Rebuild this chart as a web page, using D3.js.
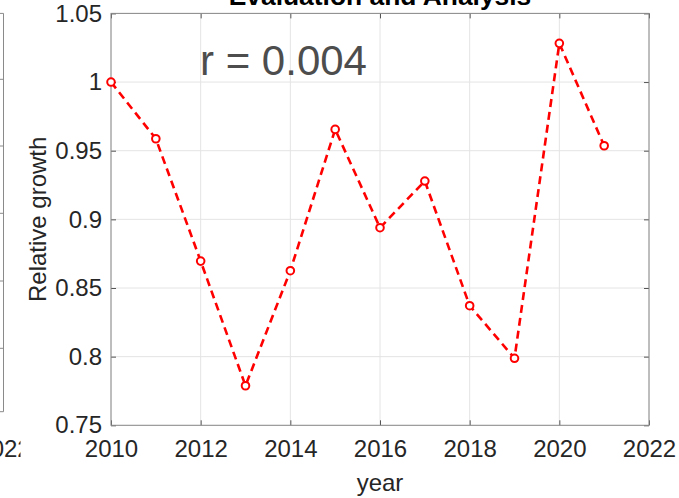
<!DOCTYPE html>
<html>
<head>
<meta charset="utf-8">
<script src="https://cdn.jsdelivr.net/npm/d3@7"></script>
<style>
  body { margin: 0; background: #fff; }
  svg { display: block; font-family: "Liberation Sans", Arial, Helvetica, sans-serif; }
</style>
</head>
<body>
<div id="chart"></div>
<script>
// data
const years = [2010, 2011, 2012, 2013, 2014, 2015, 2016, 2017, 2018, 2019, 2020, 2021];
const growth = [1.000, 0.9587, 0.8696, 0.7788, 0.8626, 0.9655, 0.8939, 0.9279, 0.8371, 0.7988, 1.0282, 0.9536];
const xTicks = [2010, 2012, 2014, 2016, 2018, 2020, 2022];
const yTicks = [0.75, 0.8, 0.85, 0.9, 0.95, 1, 1.05];
const leftPanelTicks = [79.3, 146, 213.3, 281, 348.3]; // right edge ticks of the clipped neighbour subplot
const rText = "r = 0.004";

function drawChart() {
  const container = d3.select("#chart");
  container.selectAll("*").remove();

  const width = 679;
  const height = 498;
  const plot = { left: 111, right: 649, top: 13.4, bottom: 425.3 };

  const svg = container.append("svg")
    .attr("width", width)
    .attr("height", height);

  const x = d3.scaleLinear().domain([2010, 2022]).range([plot.left, plot.right]);
  const y = d3.scaleLinear().domain([0.75, 1.05]).range([plot.bottom, plot.top]);

  // neighbouring subplot, only its right edge shows
  const lp = svg.append("g");
  lp.append("path")
    .attr("d", `M0,13.4 H3.5 V411.7 H0`)
    .attr("fill", "none")
    .attr("stroke", "#8a8a8a")
    .attr("stroke-width", 1);
  lp.selectAll(".lt")
    .data(leftPanelTicks)
    .enter()
    .append("line")
    .attr("x1", 0).attr("x2", 3.5)
    .attr("y1", d => d).attr("y2", d => d)
    .attr("stroke", "#8a8a8a");
  svg.append("clipPath").attr("id", "lclip")
    .append("rect").attr("x", 0).attr("y", 420).attr("width", 20.5).attr("height", 60);
  svg.append("text")
    .attr("clip-path", "url(#lclip)")
    .attr("x", 4).attr("y", 457)
    .attr("text-anchor", "middle")
    .attr("font-size", 24)
    .attr("fill", "#262626")
    .text("2022");

  // grid
  svg.append("g").selectAll("line")
    .data(xTicks)
    .enter()
    .append("line")
    .attr("x1", d => x(d)).attr("x2", d => x(d))
    .attr("y1", plot.top).attr("y2", plot.bottom)
    .attr("stroke", "#e4e4e4");
  svg.append("g").selectAll("line")
    .data(yTicks)
    .enter()
    .append("line")
    .attr("x1", plot.left).attr("x2", plot.right)
    .attr("y1", d => y(d)).attr("y2", d => y(d))
    .attr("stroke", "#e4e4e4");

  // axes
  const styleAxis = g => {
    g.select(".domain").remove();
    g.selectAll(".tick line").attr("stroke", "#555");
    g.selectAll(".tick text")
      .attr("fill", "#262626")
      .attr("font-size", 24);
  };

  svg.append("g")
    .attr("transform", `translate(0,${plot.bottom})`)
    .call(d3.axisBottom(x).tickValues(xTicks).tickFormat(d3.format("d")).tickSize(-5).tickPadding(15))
    .call(styleAxis);

  svg.append("g")
    .attr("transform", `translate(0,${plot.top})`)
    .call(d3.axisTop(x).tickValues(xTicks).tickFormat("").tickSize(-5))
    .call(styleAxis);

  svg.append("g")
    .attr("transform", `translate(${plot.left},0)`)
    .call(d3.axisLeft(y).tickValues(yTicks).tickFormat(d => d3.format("")(+d.toFixed(2))).tickSize(-5).tickPadding(9))
    .call(styleAxis);

  svg.append("g")
    .attr("transform", `translate(${plot.right},0)`)
    .call(d3.axisRight(y).tickValues(yTicks).tickFormat("").tickSize(-5))
    .call(styleAxis);

  // box
  svg.append("rect")
    .attr("x", plot.left).attr("y", plot.top)
    .attr("width", plot.right - plot.left)
    .attr("height", plot.bottom - plot.top)
    .attr("fill", "none")
    .attr("stroke", "#8a8a8a")
    .attr("stroke-width", 1);

  // data line
  const pts = years.map((yr, i) => ({ year: yr, value: growth[i] }));
  const line = d3.line().x(d => x(d.year)).y(d => y(d.value));

  svg.append("path")
    .datum(pts)
    .attr("d", line)
    .attr("fill", "none")
    .attr("stroke", "#ff0000")
    .attr("stroke-width", 2.6)
    .attr("stroke-dasharray", "8,5");

  svg.selectAll(".dot")
    .data(pts)
    .enter()
    .append("circle")
    .attr("class", "dot")
    .attr("cx", d => x(d.year))
    .attr("cy", d => y(d.value))
    .attr("r", 3.8)
    .attr("fill", "#fff")
    .attr("stroke", "#ff0000")
    .attr("stroke-width", 2);

  // labels
  svg.append("text")
    .attr("x", (plot.left + plot.right) / 2)
    .attr("y", 5)
    .attr("text-anchor", "middle")
    .attr("font-size", 26.4)
    .attr("font-weight", "bold")
    .attr("fill", "#000")
    .text("Evaluation and Analysis");

  svg.append("text")
    .attr("x", 200)
    .attr("y", 75)
    .attr("font-size", 42)
    .attr("fill", "#4d4d4d")
    .text(rText);

  svg.append("text")
    .attr("x", (plot.left + plot.right) / 2)
    .attr("y", 491)
    .attr("text-anchor", "middle")
    .attr("font-size", 24)
    .attr("fill", "#262626")
    .text("year");

  svg.append("text")
    .attr("transform", `translate(46,${(plot.top + plot.bottom) / 2}) rotate(-90)`)
    .attr("text-anchor", "middle")
    .attr("font-size", 24)
    .attr("fill", "#262626")
    .text("Relative growth");
}

drawChart();
</script>
</body>
</html>
